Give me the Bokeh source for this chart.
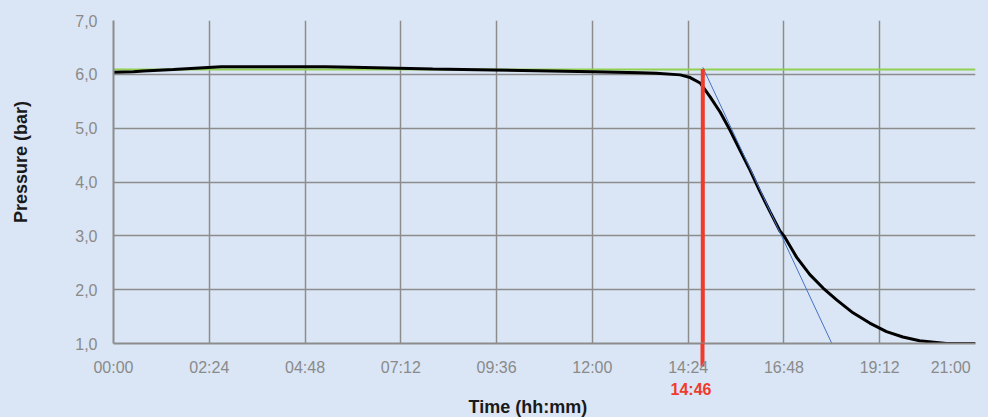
from bokeh.plotting import figure
from bokeh.models import Range1d, FixedTicker, Title, LinearAxis, CustomJSTickFormatter
from bokeh.embed import file_html
from bokeh.resources import INLINE

# ---- data (time in hours, pressure in bar) ----
curve_time = [0.0, 0.5, 0.75, 1.5, 2.7, 5.3, 6.0, 8.0, 9.5, 12.0, 13.2, 13.6,
              14.2, 14.45, 14.7, 14.95, 15.2, 15.45, 15.7, 15.95, 16.2, 16.45,
              16.7, 16.8, 17.12, 17.45, 17.78, 18.12, 18.53, 18.95, 19.37,
              19.78, 20.2, 20.62, 20.87, 21.6]
curve_pressure = [6.04, 6.05, 6.06, 6.09, 6.14, 6.14, 6.13, 6.10, 6.08, 6.05,
                  6.03, 6.02, 5.99, 5.94, 5.84, 5.58, 5.30, 4.96, 4.59, 4.22,
                  3.82, 3.45, 3.09, 3.00, 2.60, 2.28, 2.03, 1.81, 1.57, 1.38,
                  1.22, 1.12, 1.05, 1.02, 1.00, 1.00]

ref_time = [0.0, 21.6]
ref_pressure = [6.09, 6.09]

tangent_time = [14.767, 18.0]
tangent_pressure = [6.13, 1.0]

marker_time = 14 + 46 / 60
marker_label = "14:46"
marker_top = 6.1

x_ticks = [0.0, 2.4, 4.8, 7.2, 9.6, 12.0, 14.4, 16.8, 19.2, 21.6]
x_tick_labels = ["00:00", "02:24", "04:48", "07:12", "09:36", "12:00",
                 "14:24", "16:48", "19:12", "21:00\u00a0\u00a0\u00a0\u00a0"]
y_ticks = [1, 2, 3, 4, 5, 6, 7]
y_tick_labels = ["1,0", "2,0", "3,0", "4,0", "5,0", "6,0", "7,0"]

x_title = "Time (hh:mm)"
y_title = "\u00a0" * 8 + "Pressure (bar)"

BG = "#dae6f5"
GRID = "#8c8c8c"
RED = "#ee3b2b"
FONT = "Liberation Sans"

p = figure(width=980, height=409, output_backend="svg", toolbar_location=None,
           x_range=Range1d(0, 21.6), y_range=Range1d(1, 7),
           min_border_left=104, min_border_right=13, min_border_top=12,
           min_border_bottom=10)
p.background_fill_color = BG
p.border_fill_color = BG
p.outline_line_color = None

main_x = p.xaxis[0]
main_y = p.yaxis[0]
for ax, ticks, labels in ((main_x, x_ticks, x_tick_labels),
                          (main_y, y_ticks, y_tick_labels)):
    ax.ticker = FixedTicker(ticks=ticks)
    ax.major_label_overrides = {t: l for t, l in zip(ticks, labels)}
    ax.major_tick_in = 0
    ax.major_tick_out = 0
    ax.minor_tick_in = 0
    ax.minor_tick_out = 0
    ax.axis_line_color = GRID
    ax.axis_line_width = 2
    ax.major_label_text_font = FONT
    ax.major_label_text_font_size = "16px"
    ax.major_label_text_color = "#8a8a8a"
main_x.axis_line_color = None
main_x.major_label_standoff = -8
main_y.major_label_standoff = 16

main_y.axis_label = y_title
main_y.axis_label_standoff = 41
main_y.axis_label_text_font = FONT
main_y.axis_label_text_font_size = "18px"
main_y.axis_label_text_font_style = "bold"
main_y.axis_label_text_color = "#1a1a1a"

# marker axis: draws the bottom axis line and the red tick below it
marker_axis = LinearAxis(ticker=FixedTicker(ticks=[marker_time]),
                         formatter=CustomJSTickFormatter(code="return ''"),
                         axis_line_color=GRID, axis_line_width=2,
                         major_tick_in=0, major_tick_out=23,
                         major_tick_line_color=RED, major_tick_line_width=4,
                         minor_tick_in=0, minor_tick_out=0,
                         major_label_standoff=0)
p.below = [marker_axis] + list(p.below)

p.xgrid.ticker = FixedTicker(ticks=x_ticks)
p.ygrid.ticker = FixedTicker(ticks=y_ticks)
p.grid.grid_line_color = GRID
p.grid.grid_line_width = 1.5

# reference (green) line
p.line(ref_time, ref_pressure, line_color="#92d050", line_width=2)

# pressure curve
p.line(curve_time, curve_pressure, line_color="black", line_width=3)

# tangent line
p.line(tangent_time, tangent_pressure, line_color="#4472c4", line_width=1)

# red marker line
p.segment(x0=[marker_time], y0=[marker_top], x1=[marker_time], y1=[1.0],
          line_color=RED, line_width=4)

# red marker label, then x title (stacked below the axis)
p.add_layout(Title(text=marker_label, align="left", offset=557,
                   vertical_align="bottom",
                   text_color=RED, text_font=FONT, text_font_size="16px",
                   text_font_style="bold", standoff=0), "below")
p.add_layout(Title(text=x_title, align="left", offset=355,
                   vertical_align="top",
                   text_color="#1a1a1a", text_font=FONT,
                   text_font_size="18px", text_font_style="bold",
                   standoff=-2), "below")

html = file_html(p, INLINE)
html = html.replace("</head>",
                    "<style>html,body{background:%s;}body{margin:8px 8px 0 8px;overflow:hidden;}</style></head>" % BG, 1)
open("out.html", "w").write(html)
